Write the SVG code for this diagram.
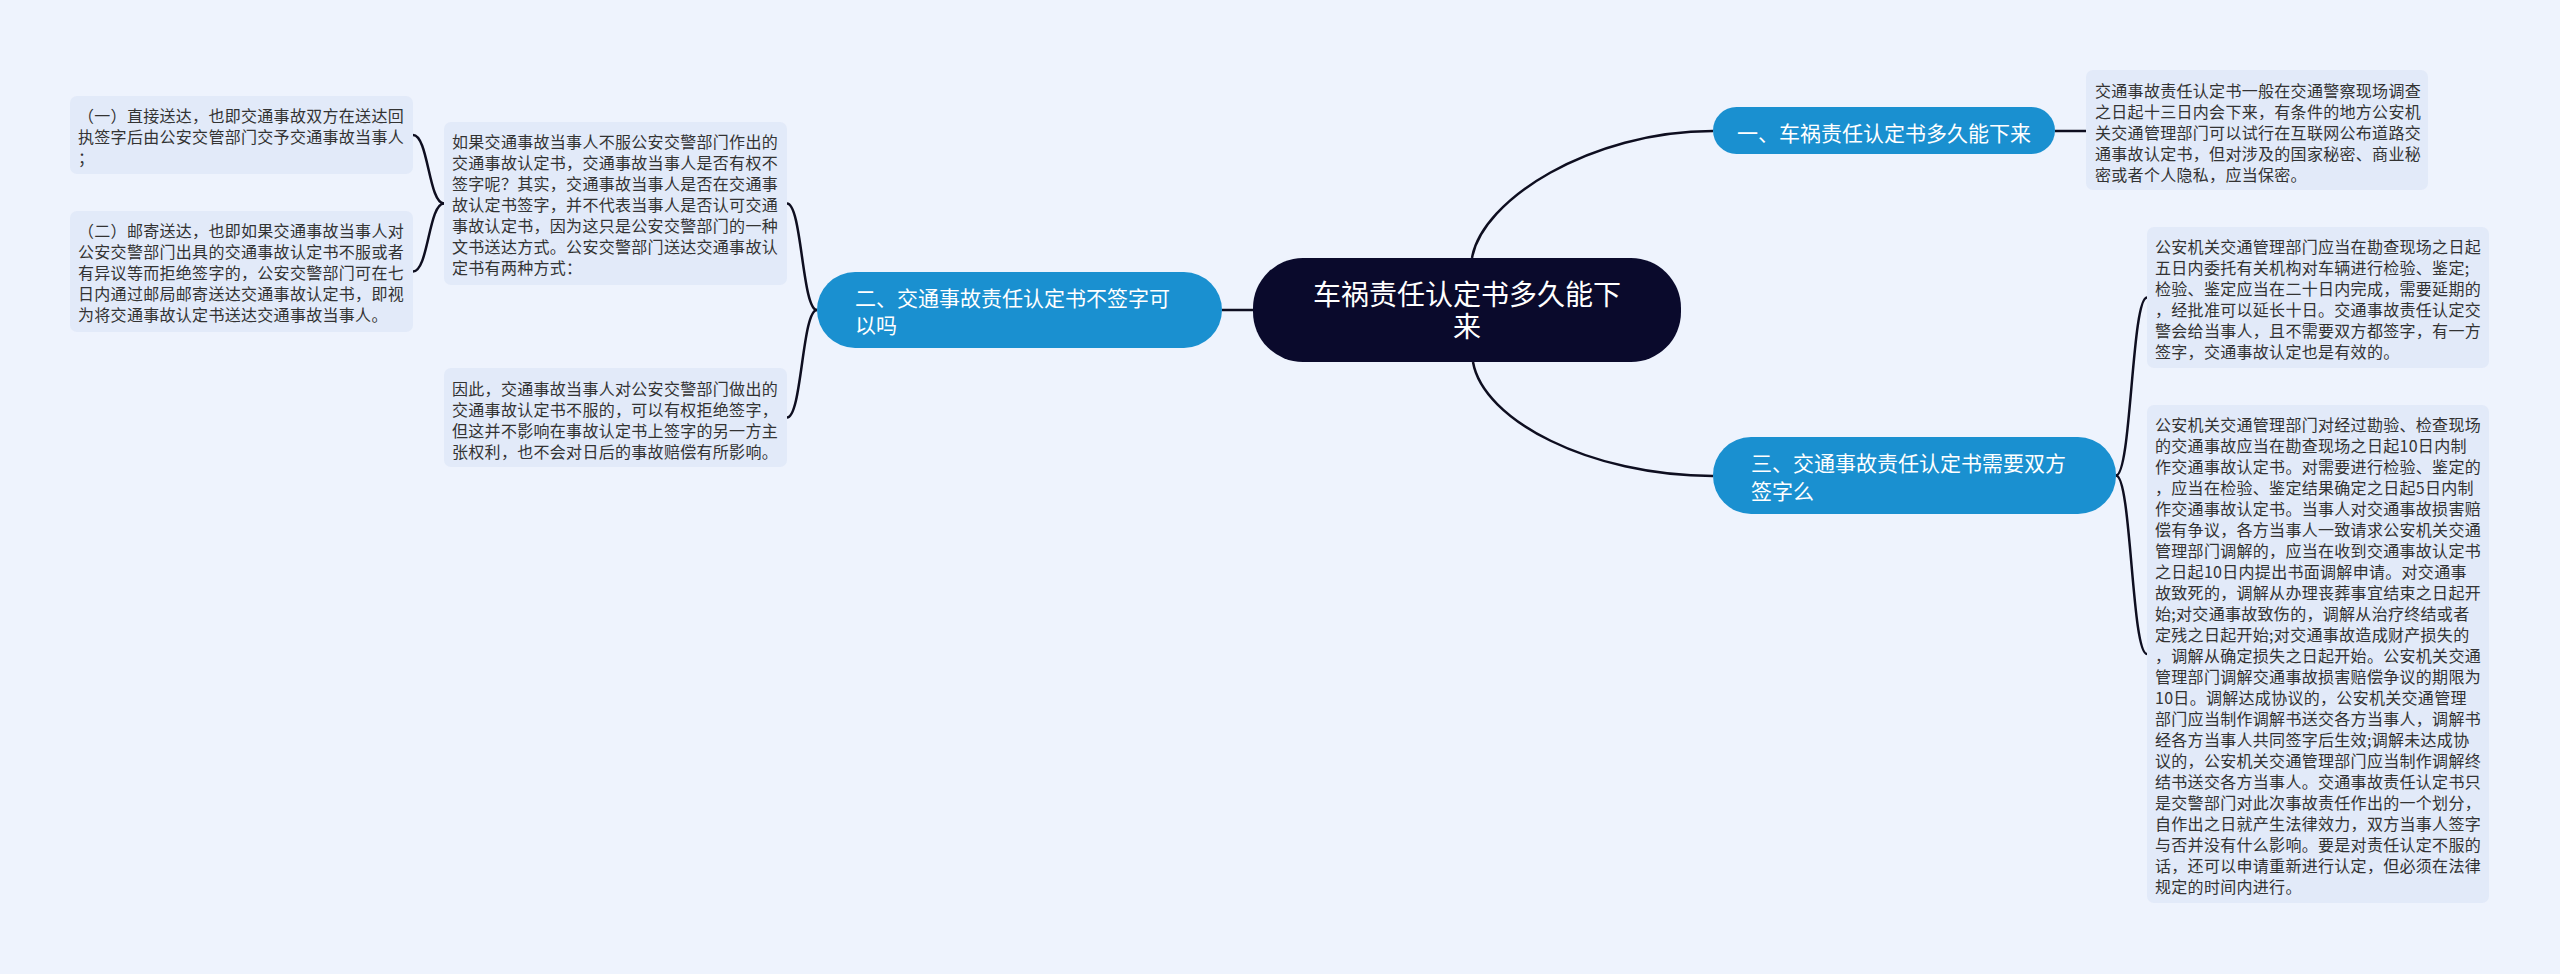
<svg xmlns="http://www.w3.org/2000/svg" width="2560" height="974" viewBox="0 0 2560 974">
<style>
.bg{fill:#EEF3FD}
.box{fill:#E2EAF9}
.bt{font-family:"Noto Sans CJK SC","Noto Sans",sans-serif;font-size:16px;fill:#333333;letter-spacing:0.3px}
.blue{fill:#1A90D0}
.nt{font-family:"Noto Sans CJK SC","Noto Sans",sans-serif;font-size:21px;fill:#FFFFFF}
.ct{font-family:"Noto Sans CJK SC","Noto Sans",sans-serif;font-size:28px;fill:#FFFFFF}
.ln{fill:none;stroke:#0E0E20;stroke-width:2.5}
</style>
<rect class="bg" x="0" y="0" width="2560" height="974"/>
<g id="connectors">
<path class="ln" d="M1472,258 C1482,200 1590,131 1713,131"/>
<path class="ln" d="M1473,362 C1483,420 1590,476 1713,476"/>
<path class="ln" d="M1222,310 L1253,310"/>
<path class="ln" d="M2055,131 L2086,131"/>
<path class="ln" d="M2116,475.5 C2131.5,475.5 2131.5,297.5 2147,297.5"/>
<path class="ln" d="M2116,475.5 C2131.5,475.5 2131.5,654 2147,654"/>
<path class="ln" d="M817,310 C802,310 802,203.5 787,203.5"/>
<path class="ln" d="M817,310 C802,310 802,417.5 787,417.5"/>
<path class="ln" d="M444,203.5 C428.5,203.5 428.5,135 413,135"/>
<path class="ln" d="M444,203.5 C428.5,203.5 428.5,271.5 413,271.5"/>
</g>
<g id="center">
<rect x="1253" y="258" width="428" height="104" rx="50" fill="#0A0A2C"/>
<text class="ct" text-anchor="middle"><tspan x="1467" y="305">车祸责任认定书多久能下</tspan><tspan x="1467" y="337">来</tspan></text>
</g>
<g id="node1">
<rect class="blue" x="1713" y="107" width="342" height="47" rx="23.5"/>
<text class="nt" x="1737" y="141">一、车祸责任认定书多久能下来</text>
</g>
<g id="node2">
<rect class="blue" x="817" y="272" width="405" height="76" rx="38"/>
<text class="nt"><tspan x="855" y="306">二、交通事故责任认定书不签字可</tspan><tspan x="855" y="333">以吗</tspan></text>
</g>
<g id="node3">
<rect class="blue" x="1713" y="437" width="403" height="77" rx="38"/>
<text class="nt"><tspan x="1751" y="471">三、交通事故责任认定书需要双方</tspan><tspan x="1751" y="499">签字么</tspan></text>
</g>
<g id="box1">
<rect class="box" x="2086" y="70" width="342" height="120" rx="7"/>
<text class="bt"><tspan x="2095" y="97">交通事故责任认定书一般在交通警察现场调查</tspan><tspan x="2095" y="118">之日起十三日内会下来，有条件的地方公安机</tspan><tspan x="2095" y="139">关交通管理部门可以试行在互联网公布道路交</tspan><tspan x="2095" y="160">通事故认定书，但对涉及的国家秘密、商业秘</tspan><tspan x="2095" y="181">密或者个人隐私，应当保密。</tspan></text>
</g>
<g id="box2">
<rect class="box" x="2147" y="227" width="342" height="141" rx="7"/>
<text class="bt"><tspan x="2155" y="253">公安机关交通管理部门应当在勘查现场之日起</tspan><tspan x="2155" y="274">五日内委托有关机构对车辆进行检验、鉴定;</tspan><tspan x="2155" y="295">检验、鉴定应当在二十日内完成，需要延期的</tspan><tspan x="2155" y="316">，经批准可以延长十日。交通事故责任认定交</tspan><tspan x="2155" y="337">警会给当事人，且不需要双方都签字，有一方</tspan><tspan x="2155" y="358">签字，交通事故认定也是有效的。</tspan></text>
</g>
<g id="box3">
<rect class="box" x="2147" y="405" width="342" height="498" rx="7"/>
<text class="bt"><tspan x="2155" y="431">公安机关交通管理部门对经过勘验、检查现场</tspan><tspan x="2155" y="452">的交通事故应当在勘查现场之日起10日内制</tspan><tspan x="2155" y="473">作交通事故认定书。对需要进行检验、鉴定的</tspan><tspan x="2155" y="494">，应当在检验、鉴定结果确定之日起5日内制</tspan><tspan x="2155" y="515">作交通事故认定书。当事人对交通事故损害赔</tspan><tspan x="2155" y="536">偿有争议，各方当事人一致请求公安机关交通</tspan><tspan x="2155" y="557">管理部门调解的，应当在收到交通事故认定书</tspan><tspan x="2155" y="578">之日起10日内提出书面调解申请。对交通事</tspan><tspan x="2155" y="599">故致死的，调解从办理丧葬事宜结束之日起开</tspan><tspan x="2155" y="620">始;对交通事故致伤的，调解从治疗终结或者</tspan><tspan x="2155" y="641">定残之日起开始;对交通事故造成财产损失的</tspan><tspan x="2155" y="662">，调解从确定损失之日起开始。公安机关交通</tspan><tspan x="2155" y="683">管理部门调解交通事故损害赔偿争议的期限为</tspan><tspan x="2155" y="704">10日。调解达成协议的，公安机关交通管理</tspan><tspan x="2155" y="725">部门应当制作调解书送交各方当事人，调解书</tspan><tspan x="2155" y="746">经各方当事人共同签字后生效;调解未达成协</tspan><tspan x="2155" y="767">议的，公安机关交通管理部门应当制作调解终</tspan><tspan x="2155" y="788">结书送交各方当事人。交通事故责任认定书只</tspan><tspan x="2155" y="809">是交警部门对此次事故责任作出的一个划分，</tspan><tspan x="2155" y="830">自作出之日就产生法律效力，双方当事人签字</tspan><tspan x="2155" y="851">与否并没有什么影响。要是对责任认定不服的</tspan><tspan x="2155" y="872">话，还可以申请重新进行认定，但必须在法律</tspan><tspan x="2155" y="893">规定的时间内进行。</tspan></text>
</g>
<g id="boxL1">
<rect class="box" x="444" y="122" width="343" height="163" rx="7"/>
<text class="bt"><tspan x="452" y="148">如果交通事故当事人不服公安交警部门作出的</tspan><tspan x="452" y="169">交通事故认定书，交通事故当事人是否有权不</tspan><tspan x="452" y="190">签字呢？其实，交通事故当事人是否在交通事</tspan><tspan x="452" y="211">故认定书签字，并不代表当事人是否认可交通</tspan><tspan x="452" y="232">事故认定书，因为这只是公安交警部门的一种</tspan><tspan x="452" y="253">文书送达方式。公安交警部门送达交通事故认</tspan><tspan x="452" y="274">定书有两种方式：</tspan></text>
</g>
<g id="boxL2">
<rect class="box" x="444" y="368" width="343" height="99" rx="7"/>
<text class="bt"><tspan x="452" y="395">因此，交通事故当事人对公安交警部门做出的</tspan><tspan x="452" y="416">交通事故认定书不服的，可以有权拒绝签字，</tspan><tspan x="452" y="437">但这并不影响在事故认定书上签字的另一方主</tspan><tspan x="452" y="458">张权利，也不会对日后的事故赔偿有所影响。</tspan></text>
</g>
<g id="boxA">
<rect class="box" x="70" y="96" width="343" height="78" rx="7"/>
<text class="bt"><tspan x="78" y="122">（一）直接送达，也即交通事故双方在送达回</tspan><tspan x="78" y="143">执签字后由公安交管部门交予交通事故当事人</tspan><tspan x="78" y="164">；</tspan></text>
</g>
<g id="boxB">
<rect class="box" x="70" y="211" width="343" height="121" rx="7"/>
<text class="bt"><tspan x="78" y="237">（二）邮寄送达，也即如果交通事故当事人对</tspan><tspan x="78" y="258">公安交警部门出具的交通事故认定书不服或者</tspan><tspan x="78" y="279">有异议等而拒绝签字的，公安交警部门可在七</tspan><tspan x="78" y="300">日内通过邮局邮寄送达交通事故认定书，即视</tspan><tspan x="78" y="321">为将交通事故认定书送达交通事故当事人。</tspan></text>
</g>
</svg>
